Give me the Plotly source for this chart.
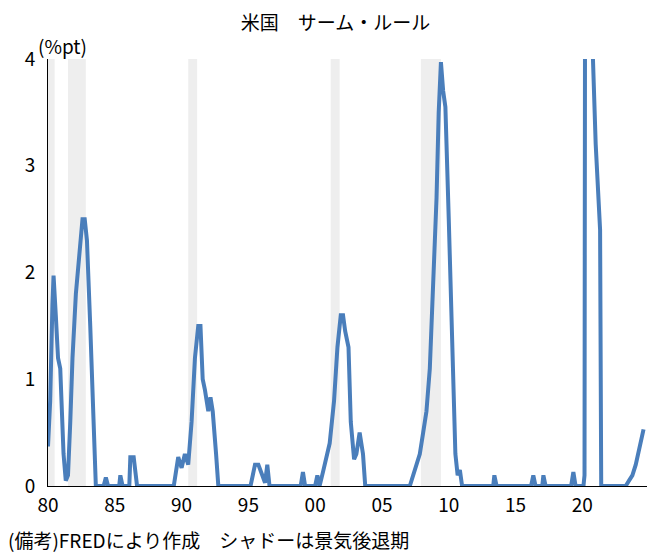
import plotly.graph_objects as go

# Sahm rule, monthly knots
dates = ["1980-01", "1980-03", "1980-05", "1980-06", "1980-08", "1980-10", "1980-12", "1981-03", "1981-05",
         "1981-07", "1981-09", "1981-11", "1982-02", "1982-05", "1982-08", "1982-10", "1982-12", "1983-03",
         "1983-06", "1983-08", "1984-03", "1984-05", "1984-07", "1985-05", "1985-06", "1985-08", "1986-02",
         "1986-03", "1986-06", "1986-09", "1989-06", "1989-10", "1990-01", "1990-04", "1990-07", "1990-10",
         "1991-01", "1991-04", "1991-06", "1991-08", "1991-10", "1992-01", "1992-03", "1992-05", "1992-08",
         "1992-10", "1995-03", "1995-07", "1995-10", "1996-01", "1996-04", "1996-06", "1996-08", "1998-12",
         "1999-02", "1999-04", "2000-01", "2000-03", "2000-05", "2000-08", "2000-11", "2001-02", "2001-06",
         "2001-09", "2001-12", "2002-02", "2002-04", "2002-07", "2002-09", "2002-12", "2003-02", "2003-05",
         "2003-08", "2003-10", "2007-02", "2007-05", "2007-08", "2007-11", "2008-02", "2008-05", "2008-08",
         "2008-11", "2009-02", "2009-04", "2009-06", "2009-08", "2009-10", "2010-01", "2010-04", "2010-07",
         "2010-09", "2010-11", "2011-01", "2013-05", "2013-06", "2013-08", "2016-03", "2016-05", "2016-07",
         "2017-01", "2017-02", "2017-04", "2019-03", "2019-05", "2019-07", "2020-02", "2020-03", "2020-04",
         "2020-06", "2020-09", "2021-01", "2021-03", "2021-05", "2021-06", "2023-04", "2023-07", "2023-10",
         "2024-01", "2024-03", "2024-05", "2024-07", "2024-08"]
sahm = [0.37, 0.8, 1.7, 1.97, 1.6, 1.2, 1.1, 0.3, 0.05,
        0.1, 0.6, 1.2, 1.8, 2.2, 2.5, 2.5, 2.3, 1.5,
        0.6, 0.0, 0.0, 0.08, 0.0, 0.0, 0.1, 0.0, 0.0,
        0.27, 0.27, 0.0, 0.0, 0.27, 0.17, 0.3, 0.2, 0.6,
        1.2, 1.5, 1.5, 1.0, 0.9, 0.7, 0.83, 0.7, 0.3,
        0.0, 0.0, 0.2, 0.2, 0.12, 0.03, 0.2, 0.0, 0.0,
        0.13, 0.0, 0.0, 0.1, 0.0, 0.13, 0.25, 0.4, 0.8,
        1.3, 1.6, 1.6, 1.45, 1.3, 0.6, 0.25, 0.3, 0.5,
        0.3, 0.0, 0.0, 0.1, 0.2, 0.3, 0.5, 0.7, 1.1,
        1.8, 2.7, 3.5, 3.97, 3.7, 3.55, 2.5, 1.3, 0.3,
        0.1, 0.15, 0.0, 0.0, 0.1, 0.0, 0.0, 0.1, 0.0,
        0.0, 0.1, 0.0, 0.0, 0.13, 0.0, 0.0, 0.1, 9.5,
        6.5, 4.5, 3.2, 2.8, 2.4, 0.0, 0.0, 0.05, 0.1,
        0.2, 0.3, 0.37, 0.5, 0.53]

# NBER recessions (start, end)
rec_start = ["1980-01", "1981-07", "1990-07", "2001-03", "2007-12", "2020-02"]
rec_end = ["1980-07", "1982-11", "1991-03", "2001-11", "2009-06", "2020-04"]

fig = go.Figure()
for s, e in zip(rec_start, rec_end):
    fig.add_vrect(x0=s, x1=e, fillcolor="#e3e3e3", opacity=0.6, line_width=0, layer="below")

fig.add_trace(go.Scatter(x=dates, y=sahm, mode="lines",
                         line=dict(color="#4a7ebb", width=4), showlegend=False))

fig.update_layout(
    width=655, height=560,
    paper_bgcolor="white", plot_bgcolor="white",
    font=dict(family="Noto Sans CJK JP", size=19, color="black"),
    title=dict(text="米国　サーム・ルール", x=0.5, y=0.985, font=dict(size=19)),
    margin=dict(l=40, r=15, t=51, b=82),
)
fig.update_xaxes(type="date", range=["1980-01-01", "2024-12-01"], dtick="M60", tick0="1980-01-01",
                 tickformat="%y", showline=True, linecolor="black", ticks="", showgrid=False,
                 ticklabelstandoff=2)
fig.update_yaxes(range=[0, 4], dtick=1, showline=True, linecolor="black", ticks="", showgrid=False,
                 zeroline=False, ticklabelstandoff=8)
fig.add_annotation(text="(%pt)", xref="paper", yref="paper", x=-0.02, y=1.0, xanchor="left",
                   yanchor="bottom", showarrow=False, yshift=-2)
fig.add_annotation(text="(備考)FREDにより作成　シャドーは景気後退期", xref="paper", yref="paper",
                   x=-0.07, y=-0.09, xanchor="left", yanchor="top", showarrow=False)

fig.write_html("out.html")
